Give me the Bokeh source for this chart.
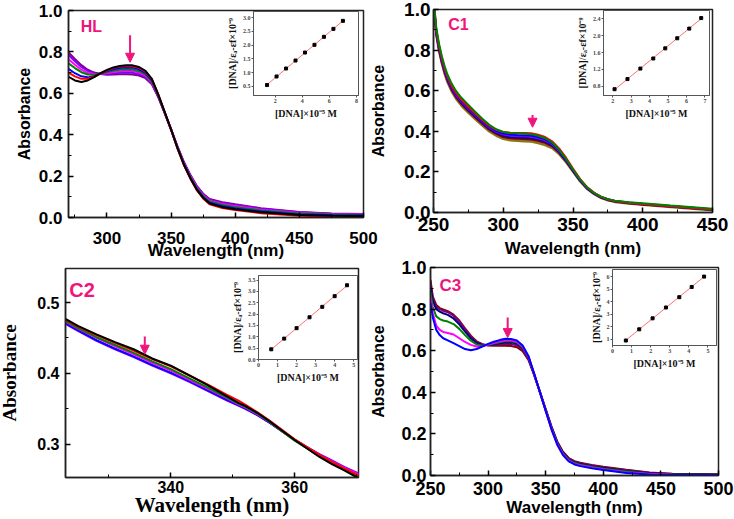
from bokeh.plotting import figure
from bokeh.models import FixedTicker, PrintfTickFormatter, Arrow, NormalHead, Label, Range1d
from bokeh.embed import file_html
from bokeh.resources import INLINE
import numpy as np

PINK = "#f0147c"

# ---------------- HL panel ----------------
HL_WL = [270, 275, 280, 285, 290, 295, 300, 305, 310, 315, 320, 325, 330, 335, 340, 345, 350, 355, 360, 365, 370, 375, 380, 390, 400, 420, 450, 475, 500]
HL_BLACK = [.680, .662, .655, .662, .678, .697, .713, .725, .732, .736, .735, .727, .708, .670, .595, .510, .425, .335, .255, .190, .135, .095, .068, .050, .040, .025, .012, .008, .006]
HL_RED = [.700, .682, .670, .670, .680, .696, .711, .722, .729, .732, .731, .723, .705, .667, .593, .508, .423, .333, .253, .188, .132, .092, .064, .046, .036, .021, .009, .005, .004]
HL_BLUE = [.718, .697, .682, .677, .683, .695, .707, .716, .722, .725, .724, .716, .699, .662, .590, .507, .423, .335, .256, .192, .137, .098, .071, .054, .044, .029, .015, .011, .010]
HL_GREEN = [.745, .722, .702, .691, .690, .696, .703, .710, .714, .716, .715, .708, .692, .657, .587, .506, .424, .337, .259, .196, .142, .103, .077, .060, .050, .034, .019, .014, .012]
HL_MAGENTA = [.765, .738, .714, .699, .693, .694, .698, .703, .707, .709, .708, .701, .686, .653, .585, .505, .425, .339, .262, .200, .146, .107, .081, .065, .055, .038, .022, .016, .014]
HL_VIOLET = [.785, .755, .727, .708, .697, .693, .693, .696, .699, .700, .699, .693, .679, .648, .583, .505, .426, .341, .265, .203, .150, .111, .085, .070, .060, .042, .025, .018, .016]
HL_PURPLE = [.797, .766, .736, .714, .700, .693, .690, .691, .692, .692, .691, .686, .673, .644, .581, .504, .427, .343, .268, .206, .153, .115, .089, .074, .064, .045, .027, .019, .017]
HL_SERIES = [HL_PURPLE, HL_VIOLET, HL_MAGENTA, HL_GREEN, HL_BLUE, HL_RED, HL_BLACK]
HL_COLORS = ["#800080", "#8000ff", "magenta", "#008000", "blue", "red", "black"]

# ---------------- C1 panel ----------------
C1_WL = [250, 252, 254, 256, 258, 260, 263, 266, 270, 275, 280, 285, 290, 295, 300, 305, 310, 315, 320, 325, 330, 335, 340, 345, 350, 355, 360, 365, 370, 375, 380, 390, 400, 420, 450]
C1_GREEN = [1.06, .91, .83, .77, .72, .68, .635, .60, .565, .53, .495, .462, .432, .41, .397, .392, .39, .389, .386, .378, .366, .345, .31, .265, .212, .163, .124, .097, .078, .066, .058, .050, .045, .034, .019]
C1_RED = [1.05, .90, .82, .76, .71, .67, .625, .59, .555, .52, .487, .456, .427, .407, .396, .393, .392, .392, .39, .383, .372, .351, .316, .27, .216, .166, .126, .098, .078, .065, .057, .048, .042, .031, .015]
C1_BLUE = [1.05, .895, .815, .755, .705, .665, .62, .585, .55, .515, .482, .451, .422, .401, .389, .384, .382, .381, .379, .372, .361, .341, .307, .262, .21, .162, .123, .096, .077, .065, .057, .049, .043, .032, .016]
C1_VIOLET = [1.05, .89, .81, .75, .70, .66, .615, .58, .545, .51, .478, .447, .418, .397, .384, .378, .376, .375, .373, .366, .355, .336, .303, .259, .208, .16, .122, .095, .076, .064, .056, .048, .042, .031, .015]
C1_NAVY = [1.04, .885, .805, .745, .695, .655, .61, .575, .54, .505, .473, .442, .413, .392, .378, .372, .369, .368, .366, .359, .349, .331, .299, .256, .206, .158, .12, .094, .075, .063, .055, .047, .041, .030, .014]
C1_WINE = [1.04, .88, .80, .74, .69, .65, .605, .57, .535, .50, .468, .437, .408, .387, .372, .366, .363, .362, .36, .353, .343, .326, .295, .253, .204, .157, .119, .093, .074, .062, .054, .046, .040, .029, .013]
C1_BROWN = [1.03, .875, .795, .735, .685, .645, .60, .565, .53, .495, .463, .432, .403, .382, .367, .36, .357, .356, .354, .347, .337, .321, .291, .25, .202, .155, .118, .092, .073, .061, .053, .045, .039, .028, .012]
C1_OLIVE = [1.03, .87, .79, .73, .68, .64, .595, .56, .525, .49, .458, .427, .398, .377, .362, .355, .352, .35, .348, .341, .331, .316, .287, .247, .2, .153, .116, .09, .071, .059, .051, .043, .037, .026, .010]
C1_SERIES = [C1_OLIVE, C1_BROWN, C1_WINE, C1_NAVY, C1_VIOLET, C1_BLUE, C1_RED, C1_GREEN]
C1_COLORS = ["#808000", "#996633", "#800000", "#000080", "#8000ff", "blue", "red", "#008000"]

# ---------------- C2 panel ----------------
C2_WL = [323, 325, 328, 331, 334, 337, 340, 343, 346, 349, 351, 352, 354, 356, 358, 360, 362, 364, 366, 368, 370.5]
C2_BLACK = [.477, .467, .455, .444, .434, .421, .411, .397, .383, .368, .358, .354, .344, .332, .319, .306, .294, .282, .272, .263, .251]
C2_RED = [.476, .466, .454, .443, .432, .420, .410, .397, .384, .370, .361, .356, .345, .333, .320, .307, .296, .285, .275, .266, .255]
C2_GREEN = [.474, .464, .451, .440, .429, .417, .406, .393, .380, .366, .357, .353, .343, .331, .318, .305, .294, .283, .273, .264, .253]
C2_MAGENTA = [.473, .463, .450, .438, .427, .415, .404, .391, .378, .365, .356, .352, .342, .331, .318, .306, .295, .285, .276, .267, .257]
C2_BLUE = [.471, .461, .447, .435, .424, .412, .401, .389, .376, .363, .355, .351, .341, .330, .318, .306, .295, .285, .276, .267, .257]
C2_VIOLET = [.470, .460, .446, .434, .423, .411, .400, .388, .375, .362, .354, .350, .341, .330, .318, .306, .296, .286, .277, .268, .258]
C2_SERIES = [C2_VIOLET, C2_BLUE, C2_MAGENTA, C2_GREEN, C2_RED, C2_BLACK]
C2_COLORS = ["#8000ff", "blue", "magenta", "#008000", "red", "black"]

# ---------------- C3 panel ----------------
C3_WL = [250, 252, 255, 258, 261, 265, 270, 275, 280, 285, 290, 295, 300, 305, 310, 315, 320, 325, 330, 335, 340, 345, 350, 355, 360, 365, 370, 375, 380, 390, 400, 420, 440, 460, 500]
C3_BLUE = [.83, .76, .70, .675, .66, .65, .636, .622, .608, .602, .608, .62, .633, .643, .651, .657, .656, .649, .625, .575, .49, .40, .31, .222, .148, .098, .068, .053, .045, .035, .026, .012, .005, .003, .002]
C3_MAGENTA = [.86, .78, .72, .70, .69, .685, .678, .66, .642, .628, .62, .622, .63, .638, .645, .65, .65, .643, .62, .572, .488, .40, .311, .224, .151, .101, .071, .056, .048, .038, .029, .015, .007, .004, .003]
C3_GREEN = [.88, .81, .765, .752, .745, .74, .728, .705, .675, .648, .63, .625, .628, .635, .641, .646, .646, .639, .617, .57, .487, .40, .313, .227, .155, .105, .075, .06, .052, .042, .033, .019, .009, .005, .004]
C3_NAVY = [.91, .84, .80, .788, .78, .772, .755, .727, .692, .66, .637, .628, .627, .631, .636, .64, .64, .634, .613, .567, .486, .401, .315, .23, .158, .108, .078, .063, .055, .045, .036, .022, .011, .006, .004]
C3_PURPLE = [.92, .85, .81, .80, .792, .785, .768, .74, .703, .668, .642, .63, .626, .628, .631, .633, .632, .626, .606, .562, .484, .401, .317, .233, .161, .111, .081, .066, .058, .048, .039, .025, .013, .007, .005]
C3_WINE = [.94, .86, .82, .805, .798, .79, .773, .745, .708, .672, .645, .631, .625, .624, .624, .624, .623, .617, .598, .556, .482, .402, .319, .236, .164, .114, .084, .069, .061, .051, .042, .028, .015, .008, .006]
C3_SERIES = [C3_WINE, C3_PURPLE, C3_NAVY, C3_GREEN, C3_MAGENTA, C3_BLUE]
C3_COLORS = ["#800000", "#800080", "#000080", "#008000", "magenta", "blue"]

# ---------------- insets ----------------
HL_IN_X = [1.4, 2.1, 2.8, 3.5, 4.2, 4.9, 5.6, 6.3, 7.0]
HL_IN_Y = [0.55, 0.86, 1.15, 1.44, 1.73, 2.01, 2.30, 2.59, 2.88]
C1_IN_X = [2.1, 2.8, 3.5, 4.2, 4.85, 5.5, 6.15, 6.8]
C1_IN_Y = [0.73, 0.97, 1.22, 1.46, 1.70, 1.94, 2.17, 2.42]
C2_IN_X = [0.67, 1.35, 2.0, 2.68, 3.35, 4.0, 4.65]
C2_IN_Y = [0.45, 0.92, 1.38, 1.86, 2.32, 2.79, 3.27]
C3_IN_X = [0.7, 1.4, 2.1, 2.8, 3.5, 4.15, 4.8]
C3_IN_Y = [0.9, 1.8, 2.68, 3.55, 4.38, 5.2, 6.03]

# arrows (x, y_start, y_end) and panel labels (x, y)
HL_ARROW = (318, 0.88, 0.75)
C1_ARROW = (321, 0.48, 0.42)
C2_ARROW = (335.8, 0.452, 0.427)
C3_ARROW = (317, 0.76, 0.663)
HL_TAG = (279.5, 0.923)
C1_TAG = (260.5, 0.926)
C2_TAG = (323.6, 0.517)
C3_TAG = (257.8, 0.913)

IN_YLABEL = "[DNA]/ε\u2090-εf\u00d710\u207b\u2079"
IN_XLABEL = "[DNA]\u00d710\u207b\u2075 M"


def pos(left, top):
    return {"position": "absolute", "left": f"{left}px", "top": f"{top}px"}


def main_fig(left, top, w, h, xr, yr, bl, br, bt, bb, xt, xm, yt, ym, tick_size,
             xstand, xlabstand, ystand, ylabstand, serif=False, lab_size="16px", title_size="17px"):
    p = figure(width=w, height=h, x_range=Range1d(*xr), y_range=Range1d(*yr),
               output_backend="svg", toolbar_location=None,
               min_border_left=bl, min_border_right=br, min_border_top=bt, min_border_bottom=bb,
               border_fill_alpha=0, styles=pos(left, top))
    p.grid.visible = False
    p.outline_line_color = "#222222"
    p.outline_line_width = 1.5
    p.outline_line_alpha = 1
    p.xaxis.ticker = FixedTicker(ticks=xt, minor_ticks=xm)
    p.yaxis.ticker = FixedTicker(ticks=yt, minor_ticks=ym)
    p.yaxis.formatter = PrintfTickFormatter(format="%.1f")
    p.xaxis.formatter = PrintfTickFormatter(format="%d")
    p.xaxis.axis_label = "Wavelength (nm)"
    p.yaxis.axis_label = "Absorbance"
    for ax in (p.xaxis[0], p.yaxis[0]):
        ax.major_tick_in = 5
        ax.major_tick_out = 0
        ax.minor_tick_in = 3
        ax.minor_tick_out = 0
        ax.axis_line_width = 1.5
        ax.axis_line_color = "#222222"
        ax.major_tick_line_width = 1.5
        ax.minor_tick_line_width = 1
        ax.major_label_text_font = "Liberation Sans"
        ax.major_label_text_font_style = "bold"
        ax.major_label_text_font_size = tick_size
        ax.major_label_text_color = "black"
        ax.axis_label_text_font = "Liberation Serif" if serif else "Liberation Sans"
        ax.axis_label_text_font_style = "bold"
        ax.axis_label_text_color = "black"
    p.xaxis.axis_label_text_font_size = title_size
    p.yaxis.axis_label_text_font_size = lab_size
    p.xaxis.major_label_standoff = xstand
    p.xaxis.axis_label_standoff = xlabstand
    p.yaxis.major_label_standoff = ystand
    p.yaxis.axis_label_standoff = ylabstand
    return p


def decorate(p, wl, series, colors, arrow, tag, tag_text, tag_size):
    for ys, c in zip(series, colors):
        p.line(wl, ys, line_color=c, line_width=2)
    x, y0, y1 = arrow
    p.add_layout(Arrow(end=NormalHead(size=9, fill_color=PINK, line_color=PINK),
                       x_start=x, y_start=y0, x_end=x, y_end=y1,
                       line_color=PINK, line_width=2))
    tx, ty = tag
    p.add_layout(Label(x=tx, y=ty, text=tag_text, text_font="Liberation Sans",
                       text_font_style="bold", text_font_size=tag_size, text_color=PINK,
                       text_baseline="middle", text_align="left"))


YT = [0, 0.2, 0.4, 0.6, 0.8, 1.0]
YM = [0.1, 0.3, 0.5, 0.7, 0.9]

# frames: HL x 68-363 y 10-217 ; C1 x 430-712 y 9-212 ; C2 x 60-358 y 268-477 ; C3 x 430-718 y 267-475
p_hl = main_fig(0, 0, 385, 272, (270, 500), (0, 1.0), 68, 22, 10, 55,
                [300, 350, 400, 450, 500], [275, 325, 375, 425, 475], YT, YM,
                "17px", 14, -6, 6, 3)
decorate(p_hl, HL_WL, HL_SERIES, HL_COLORS, HL_ARROW, HL_TAG, "HL", "16px")

p_c1 = main_fig(367, 0, 367, 272, (250, 450), (0, 1.0), 63, 22, 9, 60,
                [250, 300, 350, 400, 450], [275, 325, 375, 425], YT, YM,
                "19px", 5, 5, 3, 14)
decorate(p_c1, C1_WL, C1_SERIES, C1_COLORS, C1_ARROW, C1_TAG, "C1", "16px")

p_c2 = main_fig(-4, 260, 371, 259, (323, 370.3), (0.253, 0.548), 64, 9, 8, 42,
                [340, 360], [330, 350, 370], [0.3, 0.4, 0.5], [0.35, 0.45],
                "16px", 3, -3, 6, 14, serif=True, lab_size="19px", title_size="21px")
decorate(p_c2, C2_WL, C2_SERIES, C2_COLORS, C2_ARROW, C2_TAG, "C2", "20px")

p_c3 = main_fig(367, 250, 367, 269, (250, 500), (0, 1.0), 63, 16, 17, 44,
                [250, 300, 350, 400, 450, 500], [275, 325, 375, 425, 475], YT, YM,
                "18px", 6, 0, 4, 11)
decorate(p_c3, C3_WL, C3_SERIES, C3_COLORS, C3_ARROW, C3_TAG, "C3", "17px")


def inset(left, top, w, h, xr, yr, xt, yt, yfmt, xs, ys):
    p = figure(width=w, height=h, x_range=Range1d(*xr), y_range=Range1d(*yr),
               output_backend="svg", toolbar_location=None,
               min_border_left=25, min_border_right=2, min_border_top=3, min_border_bottom=22,
               background_fill_alpha=0, border_fill_alpha=0, styles=pos(left, top))
    p.grid.visible = False
    p.outline_line_color = "#555555"
    p.outline_line_width = 1
    p.xaxis.ticker = FixedTicker(ticks=xt)
    p.yaxis.ticker = FixedTicker(ticks=yt)
    p.xaxis.formatter = PrintfTickFormatter(format="%d")
    p.yaxis.formatter = PrintfTickFormatter(format=yfmt)
    p.xaxis.axis_label = IN_XLABEL
    p.yaxis.axis_label = IN_YLABEL
    for ax in (p.xaxis[0], p.yaxis[0]):
        ax.major_tick_in = 0
        ax.major_tick_out = 2
        ax.minor_tick_in = 0
        ax.minor_tick_out = 0
        ax.axis_line_color = "#555555"
        ax.major_tick_line_color = "#555555"
        ax.major_label_text_font = "Liberation Serif"
        ax.major_label_text_font_style = "bold"
        ax.major_label_text_font_size = "6px"
        ax.major_label_standoff = 1
        ax.axis_label_text_font = "Liberation Serif"
        ax.axis_label_text_font_style = "bold"
        ax.axis_label_standoff = 2
        ax.axis_label_text_color = "#111111"
    p.xaxis.axis_label_text_font_size = "10px"
    p.yaxis.axis_label_text_font_size = "10px"
    xa = np.array(xs)
    k, b = np.polyfit(xa, np.array(ys), 1)
    fx = [xa.min(), xa.max()]
    p.line(fx, [k * v + b for v in fx], line_color="#ff7070", line_width=1)
    p.scatter(xs, ys, marker="square", size=3, fill_color="black", line_color="black")
    return p


i_hl = inset(223, 8, 137, 113, (0.4, 8.15), (0.17, 3.22), [2, 4, 6, 8],
             [0.5, 1.0, 1.5, 2.0, 2.5, 3.0], "%.1f", HL_IN_X, HL_IN_Y)
i_c1 = inset(573, 7, 138, 114, (1.5, 7.25), (0.58, 2.6), [2, 3, 4, 5, 6, 7],
             [0.8, 1.2, 1.6, 2.0, 2.4], "%.1f", C1_IN_X, C1_IN_Y)
i_c2 = inset(228, 272, 131, 113, (0, 5.2), (0, 3.7), [0, 1, 2, 3, 4, 5],
             [0, 0.5, 1.0, 1.5, 2.0, 2.5, 3.0, 3.5], "%.1f", C2_IN_X, C2_IN_Y)
i_c3 = inset(587, 266, 131, 105, (0, 5.45), (0.5, 6.6), [0, 1, 2, 3, 4, 5],
             [1, 2, 3, 4, 5, 6], "%d", C3_IN_X, C3_IN_Y)

roots = [p_hl, p_c1, p_c2, p_c3, i_hl, i_c1, i_c2, i_c3]

open("out.html", "w").write(file_html(roots, INLINE))
